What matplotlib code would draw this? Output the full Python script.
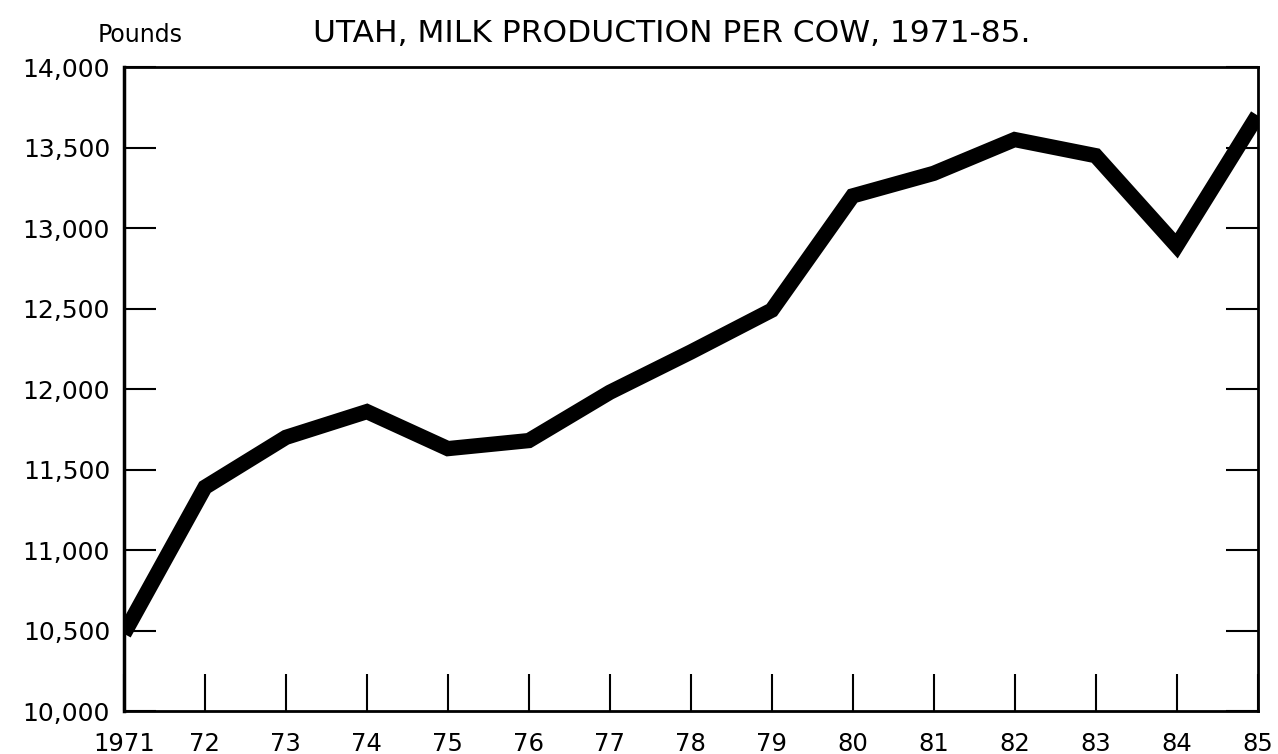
import numpy as np
import matplotlib
matplotlib.use("Agg")
import matplotlib.pyplot as plt
from matplotlib.ticker import FuncFormatter

# milk production per cow, pounds
years = [1971, 1972, 1973, 1974, 1975, 1976, 1977, 1978,
         1979, 1980, 1981, 1982, 1983, 1984, 1985]
pounds = [10480, 11390, 11700, 11860, 11630, 11680, 11980, 12230,
          12490, 13200, 13340, 13550, 13450, 12890, 13700]
year_labels = ['1971', '72', '73', '74', '75', '76', '77', '78',
               '79', '80', '81', '82', '83', '84', '85']
y_ticks = list(range(10000, 14001, 500))

plt.rcParams['font.family'] = ['DejaVu Sans']

fig = plt.figure(figsize=(12.78, 7.54), dpi=100)
ax = fig.add_axes([0.097, 0.057, 0.887, 0.854])

ax.plot(years, pounds, color='black', linewidth=11,
        solid_joinstyle='miter', solid_capstyle='butt')

ax.set_xlim(1971, 1985)
ax.set_ylim(10000, 14000)

ax.set_xticks(years)
ax.set_xticklabels(year_labels)
ax.set_yticks(y_ticks)
ax.yaxis.set_major_formatter(FuncFormatter(lambda v, p: f'{int(v):,}'))

ax.tick_params(axis='y', direction='in', length=23, width=1.5,
               left=True, right=True, labelsize=18, pad=10)
ax.tick_params(axis='x', direction='in', length=27, width=1.5,
               labelsize=17.5, pad=15)

for s in ax.spines.values():
    s.set_linewidth(2)
    s.set_color('black')
ax.spines['left'].set_linewidth(2.5)

fig.text(0.526, 0.955, 'UTAH, MILK PRODUCTION PER COW, 1971-85.',
         ha='center', va='center', fontsize=22.5)
fig.text(0.143, 0.953, 'Pounds', ha='right', va='center', fontsize=17)

fig.savefig('out.png', dpi=100, facecolor='white')
